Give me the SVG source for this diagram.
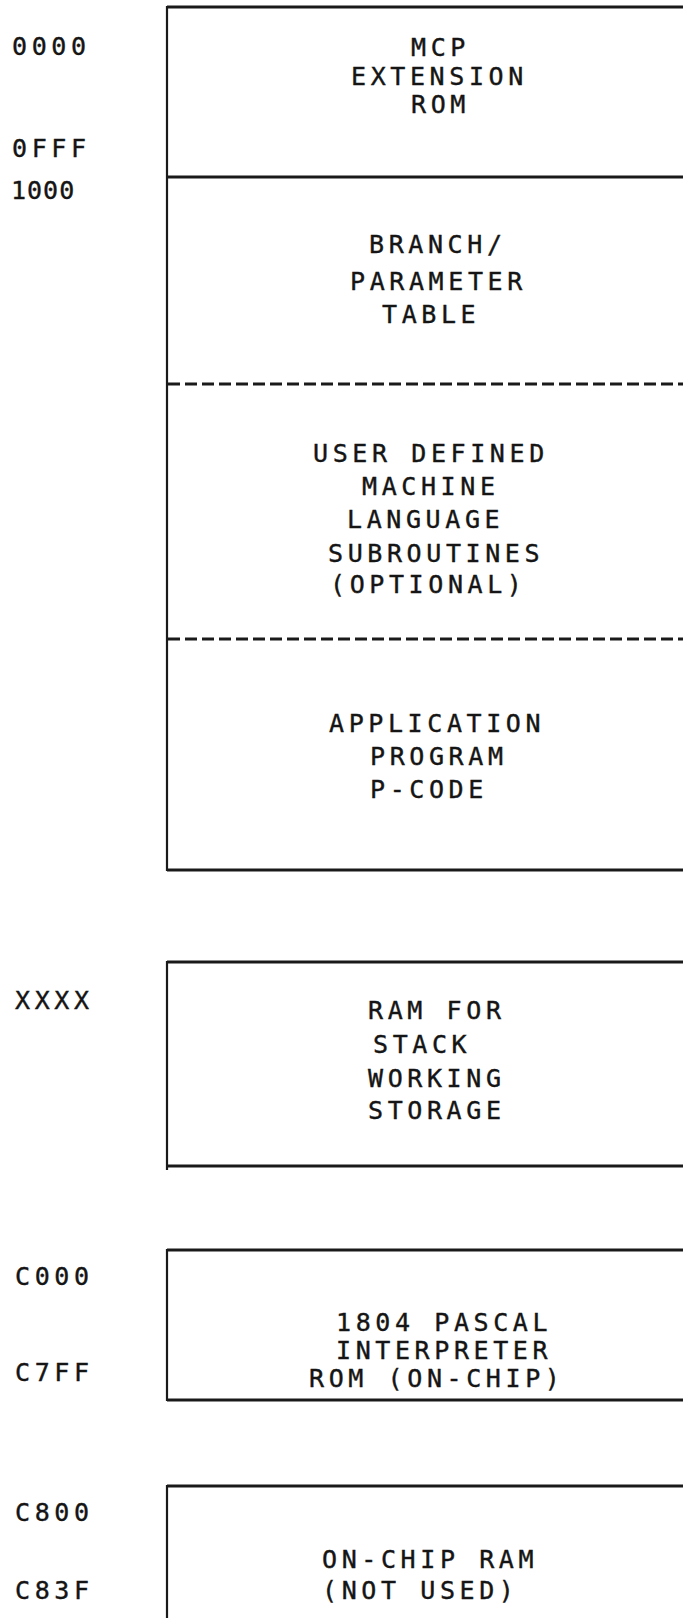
<svg xmlns="http://www.w3.org/2000/svg" width="683" height="1618" viewBox="0 0 683 1618">
<style>
.t{font-family:"DejaVu Sans Mono","Liberation Mono",monospace;font-size:25px;fill:#151515;stroke:#151515;stroke-width:0.4;letter-spacing:4.6px}
.ln{stroke:#1a1a1a;stroke-width:3;fill:none}
.vl{stroke:#1a1a1a;stroke-width:2.2;fill:none}
.ds{stroke:#1a1a1a;stroke-width:3;fill:none;stroke-dasharray:12 5}
</style>
<rect width="683" height="1618" fill="#fff"/>
<g id="addresses">
<text class="t" x="12" y="55">0000</text>
<text class="t" x="12" y="157">0FFF</text>
<text class="t" x="11" y="199" style="letter-spacing:1px">1000</text>
<text class="t" x="15" y="1009">XXXX</text>
<text class="t" x="15" y="1285">C000</text>
<text class="t" x="15" y="1381">C7FF</text>
<text class="t" x="15" y="1521">C800</text>
<text class="t" x="15" y="1599">C83F</text>
</g>
<g id="mcp-rom">
<line class="ln" x1="167" y1="7" x2="683" y2="7"/>
<line class="ln" x1="167" y1="177" x2="683" y2="177"/>
<text class="t" x="411" y="56">MCP</text>
<text class="t" x="351" y="85">EXTENSION</text>
<text class="t" x="411" y="113">ROM</text>
</g>
<g id="branch-table">
<text class="t" x="369" y="253">BRANCH/</text>
<text class="t" x="350" y="290">PARAMETER</text>
<text class="t" x="382" y="323">TABLE</text>
<line class="ds" x1="168" y1="384" x2="683" y2="384"/>
</g>
<g id="user-subroutines">
<text class="t" x="313" y="462">USER DEFINED</text>
<text class="t" x="362" y="495">MACHINE</text>
<text class="t" x="347" y="528">LANGUAGE</text>
<text class="t" x="328" y="562">SUBROUTINES</text>
<text class="t" x="330" y="593">(OPTIONAL)</text>
<line class="ds" x1="168" y1="639" x2="683" y2="639"/>
</g>
<g id="application">
<text class="t" x="329" y="732">APPLICATION</text>
<text class="t" x="370" y="765">PROGRAM</text>
<text class="t" x="370" y="798">P-CODE</text>
<line class="ln" x1="167" y1="870" x2="683" y2="870"/>
<line class="vl" x1="167" y1="6" x2="167" y2="871"/>
</g>
<g id="ram-stack">
<line class="ln" x1="167" y1="962" x2="683" y2="962"/>
<line class="ln" x1="167" y1="1166" x2="683" y2="1166"/>
<line class="vl" x1="167" y1="961" x2="167" y2="1170"/>
<text class="t" x="368" y="1019">RAM FOR</text>
<text class="t" x="373" y="1053">STACK</text>
<text class="t" x="368" y="1087">WORKING</text>
<text class="t" x="368" y="1119">STORAGE</text>
</g>
<g id="interpreter-rom">
<line class="ln" x1="167" y1="1250" x2="683" y2="1250"/>
<line class="ln" x1="167" y1="1400" x2="683" y2="1400"/>
<line class="vl" x1="167" y1="1249" x2="167" y2="1401"/>
<text class="t" x="336" y="1331">1804 PASCAL</text>
<text class="t" x="336" y="1359">INTERPRETER</text>
<text class="t" x="309" y="1387">ROM (ON-CHIP)</text>
</g>
<g id="on-chip-ram">
<line class="ln" x1="167" y1="1486" x2="683" y2="1486"/>
<line class="vl" x1="167" y1="1485" x2="167" y2="1618"/>
<text class="t" x="322" y="1568">ON-CHIP RAM</text>
<text class="t" x="322" y="1599">(NOT USED)</text>
</g>
<g id="connectors"/>
</svg>
